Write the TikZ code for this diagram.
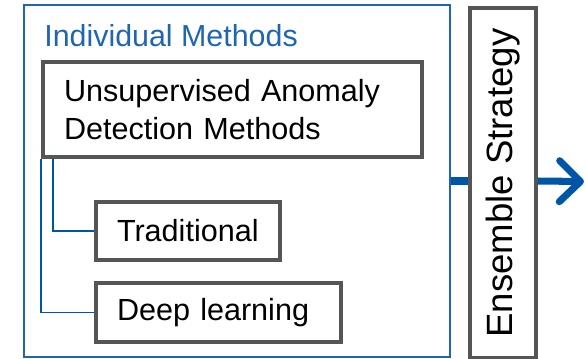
\documentclass[tikz,border=0pt]{standalone}
\usepackage{fontspec}
\setmainfont{Liberation Sans}
\usepackage{tikz}
\usetikzlibrary{arrows.meta,positioning,calc}
\usepackage{xcolor}
\definecolor{imblue}{RGB}{31,102,178}
\definecolor{imdarkblue}{RGB}{0,86,166}
\definecolor{imgray}{RGB}{85,85,85}
\tikzstyle{groupbox} = [rectangle, draw=imblue, line width=0.9pt]
\tikzstyle{methodbox} = [rectangle, draw=imgray, line width=2pt, fill=white, align=left, inner xsep=0.42cm, font=\fontsize{17.4}{21.6}\selectfont]
\tikzstyle{link} = [draw=imdarkblue, line width=1pt]
\tikzstyle{bigarrow} = [draw=imdarkblue, line width=4pt]

\begin{document}
\begin{tikzpicture}[x=0.02cm, y=-0.02cm]
\useasboundingbox (0,0) rectangle (586,359);

% Individual methods group
\node[groupbox, minimum width=8.52cm, minimum height=7.04cm] (indiv) at (237,181) {};
\node[anchor=base west, text=imblue, inner sep=0pt, font=\fontsize{17.3}{21.6}\selectfont] (title) at (44,46) {Individual Methods};

% Methods
\node[methodbox, minimum height=1.9cm, text width=6.74cm] (uad) at (232.5,109.5) {Unsupervised Anomaly\\Detection Methods};
\node[methodbox, minimum height=1.16cm, text width=2.84cm] (trad) at (188,231) {Traditional};
\node[methodbox, minimum height=1.18cm, text width=4.06cm] (deep) at (218.5,312.5) {Deep learning};

% Ensemble
\node[methodbox, rotate=90, align=center, minimum width=7cm, minimum height=1.32cm, text width={}, inner sep=0pt, font=\fontsize{20.8}{24}\selectfont] (ens) at (503,183) {Ensemble Strategy};
\coordinate (out) at (584,181.5);

% Links
\draw[link] ([xshift=0.24cm]uad.south west) |- (trad.west);
\draw[link] (uad.south west) |- (deep.west);
\draw[bigarrow] (indiv.east) -- (indiv.east -| ens.north);
\draw[bigarrow, -{Straight Barb[length=0.42cm, width=0.82cm, round]}] (ens.south |- indiv.east) -- (out);
\end{tikzpicture}
\end{document}
